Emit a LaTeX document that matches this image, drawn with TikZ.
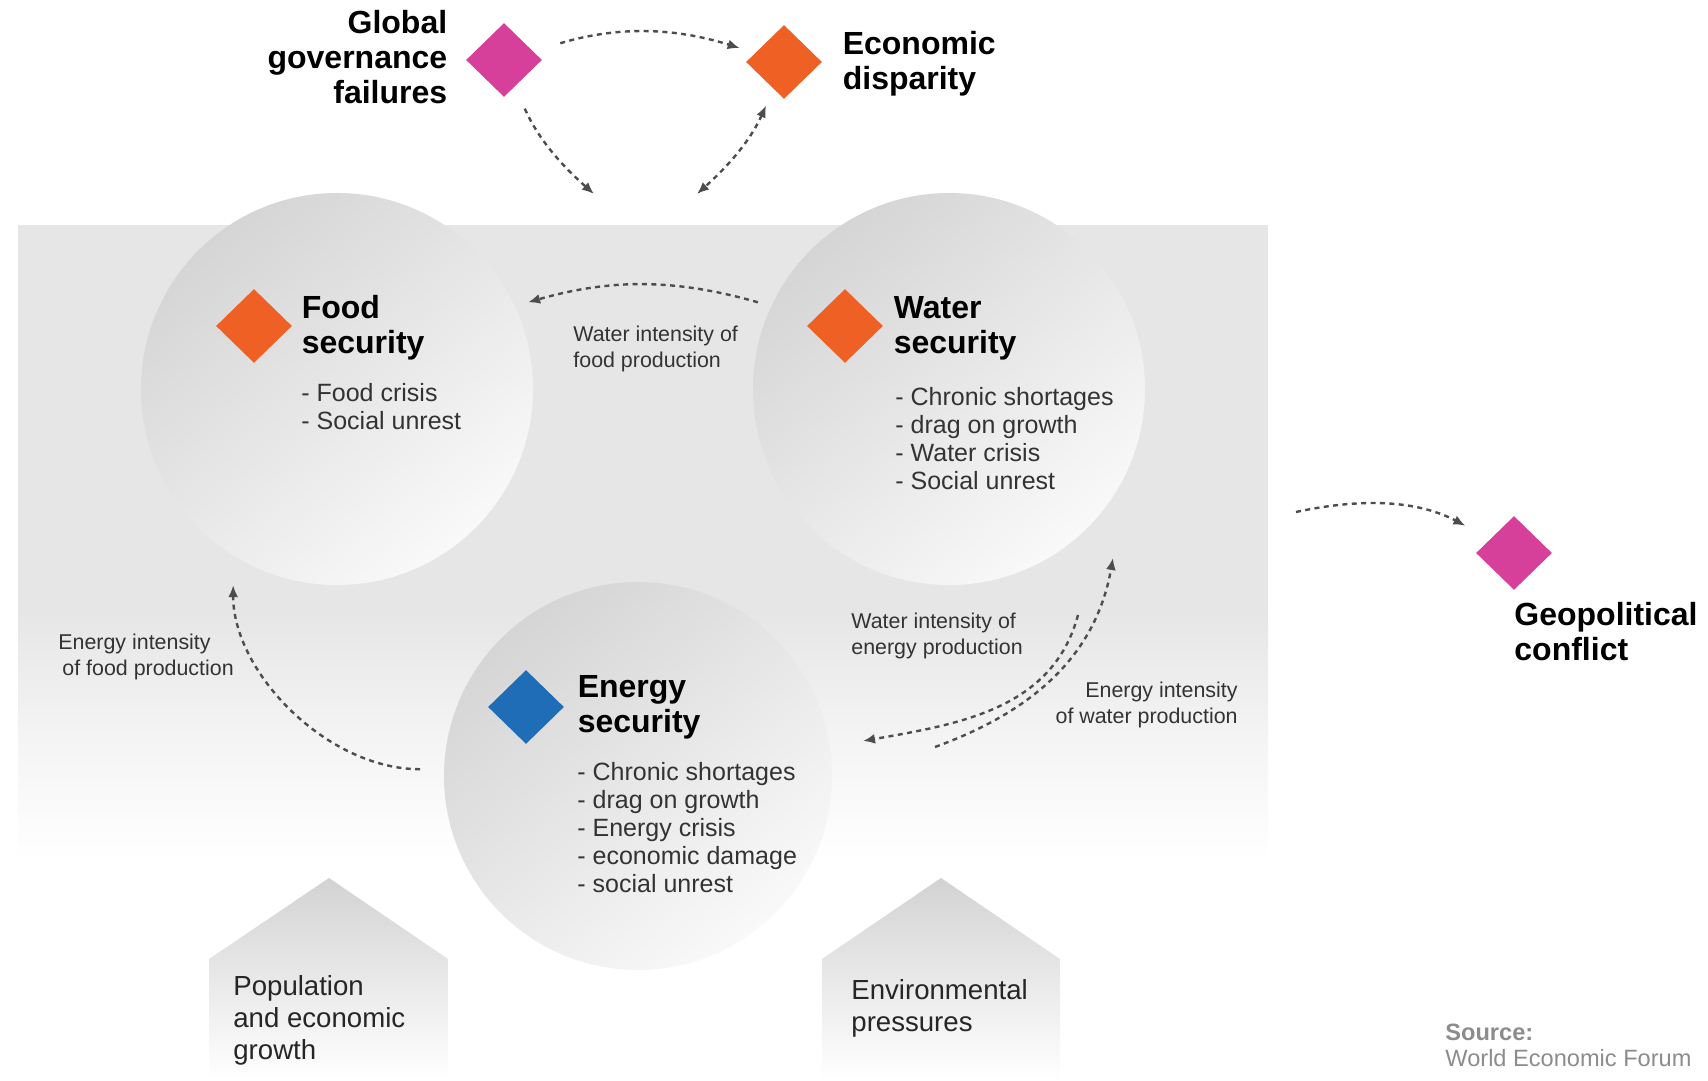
\documentclass[tikz,border=0pt]{standalone}
\usepackage{fontspec}
\setmainfont{Liberation Sans}
\usetikzlibrary{
	arrows.meta,
	positioning,
	shapes.geometric,
}

\definecolor{riskpink}{HTML}{D6409A}
\definecolor{riskorange}{HTML}{EE6023}
\definecolor{riskblue}{HTML}{1E6DB6}
\definecolor{bggray}{HTML}{E6E6E6}
\definecolor{discdark}{HTML}{D5D5D5}
\definecolor{disclight}{HTML}{F9F9F9}
\definecolor{linkgray}{HTML}{4D4D4D}
\definecolor{textgray}{HTML}{333333}
\definecolor{srcgray}{HTML}{8C8C8C}

\begin{document}
\begin{tikzpicture}[x=0.5pt, y=0.5pt,
		risk/.style={diamond, inner sep=0pt, minimum width=38pt, minimum height=37pt},
		disc/.style={circle, inner sep=0pt, outer sep=0pt, minimum size=196pt, top color=discdark, bottom color=disclight, shading angle=40},
		headline/.style={font=\bfseries\fontsize{16}{17.5}\selectfont, inner sep=0pt, align=left},
		itemlist/.style={font=\fontsize{12.5}{14}\selectfont, text=textgray, inner sep=0pt, align=left, anchor=north west},
		note/.style={font=\fontsize{10.7}{13}\selectfont, text=textgray, inner sep=0pt, align=left, anchor=north west},
		driver/.style={font=\fontsize{13.8}{16}\selectfont, text=black!85, inner sep=0pt, align=left, anchor=north west},
		house/.style={top color=gray!35, bottom color=white},
		link/.style={draw=linkgray, line width=1.2pt, dash pattern=on 2.5pt off 2.2pt, -{Latex[length=6pt,width=5pt]}},
	]
		\useasboundingbox (0,0) rectangle (1708,1081);
		\fill [bggray] (18,469) rectangle (1268,856);
		\shade [top color=bggray, bottom color=white, middle color=bggray!45!white] (18,221) rectangle (1268,470);
		\shade [house] (209,0) -- (209,122) -- (329,203) -- (448,122) -- (448,0) -- cycle;
		\shade [house] (822,0) -- (822,122) -- (941,203) -- (1060,122) -- (1060,0) -- cycle;
		\node [disc] (food) at (337,692) {};
		\node [disc] (water) at (949,692) {};
		\node [disc, minimum size=194pt] (energy) at (638,305) {};
		\node [risk, fill=riskorange] (fooddia) at (254,755) {};
		\node [risk, fill=riskorange] (waterdia) at (845,755) {};
		\node [risk, fill=riskblue] (energydia) at (526,374) {};
		\node [risk, fill=riskpink] (gov) at (504,1021) {};
		\node [risk, fill=riskorange] (disparity) at (784,1019) {};
		\node [risk, fill=riskpink] (geo) at (1514,528) {};
		\node [headline, right=4.5pt of fooddia, yshift=-1pt] (foodtitle) {Food\\security};
		\node [headline, right=5pt of waterdia, yshift=-1pt] (watertitle) {Water\\security};
		\node [headline, right=6.5pt of energydia] (energytitle) {Energy\\security};
		\node [headline, align=right, left=9pt of gov, yshift=1.5pt] (govtitle) {Global\\governance\\failures};
		\node [headline, right=10pt of disparity, yshift=-1pt] (disparitytitle) {Economic\\disparity};
		\node [headline, anchor=north west] (geotitle) at (1514,479) {Geopolitical\\conflict};
		\node [itemlist] (foodlist) at (301,698) {- Food crisis\\- Social unrest};
		\node [itemlist] (waterlist) at (895,694) {- Chronic shortages\\- drag on growth\\- Water crisis\\- Social unrest};
		\node [itemlist] (energylist) at (577,319) {- Chronic shortages\\- drag on growth\\- Energy crisis\\- economic damage\\- social unrest};
		\node [note] (wif) at (573,755) {Water intensity of\\food production};
		\node [note] (eif) at (58,447) {Energy intensity\\\hspace*{2pt}of food production};
		\node [note] (wie) at (851,468) {Water intensity of\\energy production};
		\node [note, anchor=north east, align=right] (eiw) at (1238,399) {Energy intensity\\of water production};
		\node [driver] (population) at (233,106) {Population\\and economic\\growth};
		\node [driver] (environment) at (851,102) {Environmental\\pressures};
		\node [font=\fontsize{11.8}{13}\selectfont, text=srcgray, inner sep=0pt, align=left, anchor=north west] (source) at (1445,57) {\textbf{Source:}\\World Economic Forum};
		\coordinate (govfoot) at (594,887);
		\coordinate (disfoot) at (697,887);
		\coordinate (geofrom) at (1296,569);
		\coordinate (ewfoot) at (935,334);
		\coordinate (ewtip) at (1113,523);
		\coordinate (wefoot) at (1078,466);
		\coordinate (wetip) at (863,340);
		\draw [link, shorten <=14pt, shorten >=8pt] (gov) to [bend left=17] (disparity);
		\draw [link, shorten <=12pt] (gov) to [bend right=12] (govfoot);
		\draw [link, {Latex[length=6pt,width=5pt]}-{Latex[length=6pt,width=5pt]}, shorten <=9pt] (disparity) to [bend left=12] (disfoot);
		\draw [link, shorten <=7pt, shorten >=7pt] (water.155) to [bend right=16] (food.25);
		\draw [link, shorten <=12pt, shorten >=15pt] (energy.178) to [out=180, in=-90] (food.238);
		\draw [link] (wefoot) to [out=-105, in=10] (wetip);
		\draw [link] (ewfoot) to [out=20, in=-100] (ewtip);
		\draw [link, shorten >=14pt] (geofrom) to [bend left=20] (geo);
\end{tikzpicture}
\end{document}
